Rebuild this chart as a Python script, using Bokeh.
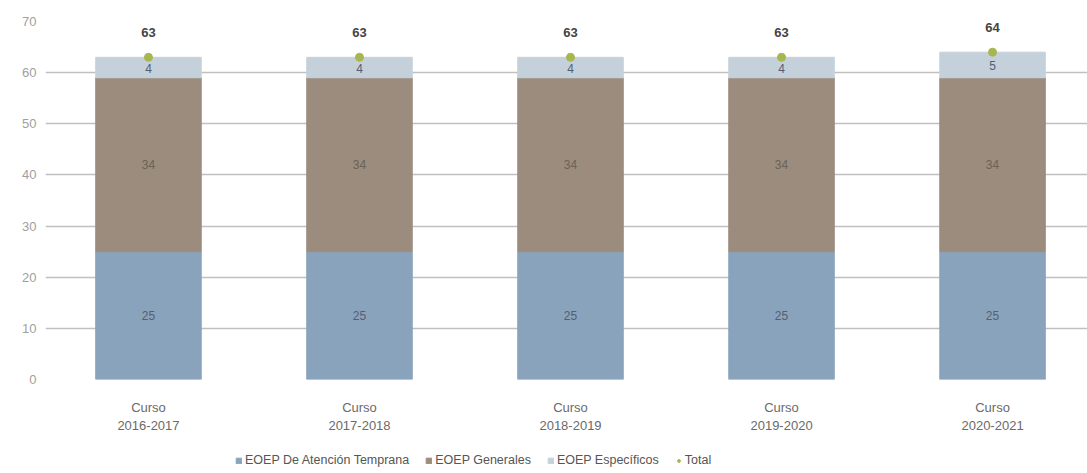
from bokeh.plotting import figure
from bokeh.layouts import column
from bokeh.models import ColumnDataSource, FixedTicker, Legend, LegendItem, Range1d, LabelSet
from bokeh.embed import file_html
from bokeh.resources import INLINE
from bokeh.core.properties import value

categories = ["Curso\n2016-2017", "Curso\n2017-2018", "Curso\n2018-2019", "Curso\n2019-2020", "Curso\n2020-2021"]
atencion_temprana = [25, 25, 25, 25, 25]
generales = [34, 34, 34, 34, 34]
especificos = [4, 4, 4, 4, 5]
total = [63, 63, 63, 63, 64]
series_names = ["EOEP De Atención Temprana", "EOEP Generales", "EOEP Específicos", "Total"]

FONT = "Liberation Sans"
C_BLUE = "#8aa3bd"
C_BROWN = "#9b8c7e"
C_LIGHT = "#c5d1da"
C_GREEN = "#a7b64e"

x = list(range(len(categories)))
b1_top = [a for a in atencion_temprana]
b2_top = [a + g for a, g in zip(atencion_temprana, generales)]
b3_top = [a + g + e for a, g, e in zip(atencion_temprana, generales, especificos)]

src = ColumnDataSource(dict(
    x=x,
    b0=[0] * len(x),
    b1=b1_top,
    b2=b2_top,
    b3=b3_top,
    m1=[t / 2 for t in b1_top],
    m2=[(a + b) / 2 for a, b in zip(b1_top, b2_top)],
    m3=[(a + b) / 2 for a, b in zip(b2_top, b3_top)],
    l1=[str(v) for v in atencion_temprana],
    l2=[str(v) for v in generales],
    l3=[str(v) for v in especificos],
    tot=total,
    ltot=[str(v) for v in total],
))

p = figure(width=1087, height=440, output_backend="svg", toolbar_location=None,
           x_range=Range1d(-0.488, 4.45), y_range=Range1d(0, 70),
           min_border_left=45, min_border_top=21, min_border_right=0, min_border_bottom=61)
p.outline_line_color = None
p.background_fill_color = "white"

W = 0.5
p.vbar(x="x", bottom="b0", top="b1", width=W, color=C_BLUE, source=src)
p.vbar(x="x", bottom="b1", top="b2", width=W, color=C_BROWN, source=src)
p.vbar(x="x", bottom="b2", top="b3", width=W, color=C_LIGHT, source=src)
p.scatter(x="x", y="tot", size=8, color=C_GREEN, source=src)

lab_kw = dict(text_align="center", text_baseline="middle", text_font=value(FONT),
              text_font_size="12px", source=src)
p.add_layout(LabelSet(x="x", y="m1", text="l1", text_color="#55606e", **lab_kw))
p.add_layout(LabelSet(x="x", y="m2", text="l2", text_color="#6b6258", **lab_kw))
p.add_layout(LabelSet(x="x", y="m3", text="l3", text_color="#4f5f78", y_offset=-1, **lab_kw))
p.add_layout(LabelSet(x="x", y="tot", text="ltot", text_color="#444444", y_offset=25,
                      text_align="center", text_baseline="middle", text_font=value(FONT),
                      text_font_size="13px", text_font_style="bold", source=src))

p.xgrid.grid_line_color = None
p.ygrid.grid_line_color = "#c0c0c0"
p.ygrid.grid_line_width = 1.5
p.yaxis.ticker = FixedTicker(ticks=list(range(0, 71, 10)))
p.xaxis.ticker = FixedTicker(ticks=x)
p.xaxis.major_label_overrides = {i: c for i, c in enumerate(categories)}

for ax in (p.xaxis, p.yaxis):
    ax.axis_line_color = None
    ax.major_tick_line_color = None
    ax.minor_tick_line_color = None
    ax.major_label_text_font = FONT
    ax.major_label_text_font_size = "13px"
    ax.major_label_text_color = "#6a6a6a"
p.yaxis.major_label_text_color = "#a0a0a0"
p.yaxis.major_label_standoff = 3
p.xaxis.major_label_standoff = 14

# legend panel (its glyph renderers sit outside the visible range and serve only as legend proxies)
leg = figure(width=1087, height=33, output_backend="svg", toolbar_location=None,
             x_range=Range1d(100, 101), y_range=Range1d(100, 101),
             x_axis_location=None, y_axis_location=None,
             min_border_left=0, min_border_right=0, min_border_top=0, min_border_bottom=0)
leg.outline_line_color = None
leg.xgrid.grid_line_color = None
leg.ygrid.grid_line_color = None
g1 = leg.vbar(x="x", bottom="b0", top="b1", width=W, color=C_BLUE, source=src)
g2 = leg.vbar(x="x", bottom="b1", top="b2", width=W, color=C_BROWN, source=src)
g3 = leg.vbar(x="x", bottom="b2", top="b3", width=W, color=C_LIGHT, source=src)
g4 = leg.scatter(x="x", y="tot", size=8, color=C_GREEN, source=src)

legend = Legend(items=[
    LegendItem(label=series_names[0], renderers=[g1]),
    LegendItem(label=series_names[1], renderers=[g2]),
    LegendItem(label=series_names[2], renderers=[g3]),
    LegendItem(label=series_names[3], renderers=[g4]),
], orientation="horizontal", location=(190, 6),
    label_text_font=FONT, label_text_font_size="12.5px", label_text_color="#555555",
    glyph_width=7, glyph_height=7, label_standoff=3, spacing=16,
    border_line_color=None, padding=0, margin=0, background_fill_alpha=0)
leg.add_layout(legend, "center")

layout = column(p, leg, spacing=0)
open("out.html", "w").write(file_html(layout, INLINE))
